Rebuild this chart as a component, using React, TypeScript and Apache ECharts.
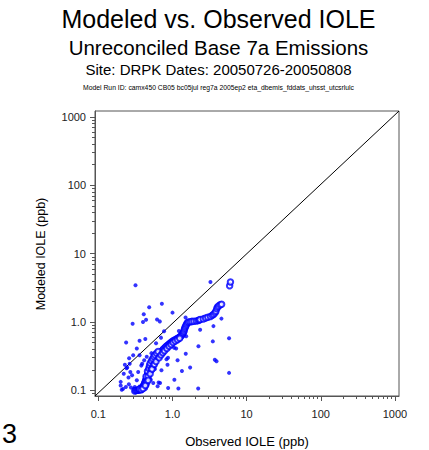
import React, { useEffect, useRef } from "react";
import * as echarts from "echarts";

// ---- Data ----
const titleText = "Modeled vs. Observed IOLE";
const subtitleText = "Unreconciled Base 7a Emissions";
const siteText = "Site: DRPK Dates: 20050726-20050808";
const runText = "Model Run ID: camx450 CB05 bc05jul reg7a 2005ep2 eta_dbemis_fddats_uhsst_utcsrlulc";
const xAxisName = "Observed IOLE (ppb)";
const yAxisName = "Modeled IOLE (ppb)";
const pageNumber = "3";

const tickExponents = [-1, 0, 1, 2, 3];
const tickLabels = ["0.1", "1.0", "10", "100", "1000"];

// paired observations (filled dots)
const pairedObs = [
  0.317, 3.25, 0.72, 0.485, 0.41, 1.0, 0.29, 0.40, 0.44, 0.62, 0.675, 0.237, 0.36, 0.43, 0.60,
  0.33, 0.295, 0.26, 0.265, 0.228, 0.245, 0.22, 0.255, 0.20, 0.207, 0.235, 0.275, 0.258, 0.345,
  0.39, 0.415, 0.49, 0.51, 0.65, 0.68, 0.874, 1.06, 1.2, 1.34, 1.73, 1.51, 1.12, 1.05, 0.87,
  0.83, 2.22, 2.24, 2.36, 3.5, 3.72, 3.92, 3.57, 4.57, 5.8, 5.8, 1.5, 1.53, 1.22, 0.77, 0.70,
  0.52, 0.58, 0.45, 0.36, 0.285, 0.33, 0.46, 0.71, 0.856, 1.17, 0.36, 0.63, 0.20, 0.215, 0.24,
  0.30, 0.31, 0.27, 0.38, 0.55,
];
const pairedMod = [
  3.44, 3.85, 1.85, 1.64, 1.30, 1.37, 0.945, 1.0, 1.08, 1.09, 1.02, 0.50, 0.53, 0.565, 0.49,
  0.41, 0.325, 0.294, 0.245, 0.237, 0.215, 0.175, 0.154, 0.118, 0.102, 0.112, 0.11, 0.123, 0.186,
  0.245, 0.275, 0.197, 0.143, 0.13, 0.128, 0.108, 0.143, 0.106, 0.192, 0.215, 0.344, 0.41, 0.42, 0.30,
  0.285, 0.106, 0.44, 0.77, 0.52, 0.28, 0.266, 0.87, 1.12, 0.58, 0.18, 1.16, 0.617, 0.74, 0.73, 0.59,
  0.35, 0.205, 0.31, 0.325, 0.166, 0.14, 0.118, 0.196, 0.237, 0.275, 0.114, 0.115, 0.133, 0.105, 0.21,
  0.105, 0.112, 0.185, 0.23, 0.128,
];

// sorted (quantile) pairs (open circles)
const qqObs = [
  0.31, 0.32, 0.33, 0.34, 0.35, 0.36, 0.37, 0.38, 0.385, 0.39, 0.395, 0.40, 0.405, 0.41, 0.415,
  0.42, 0.425, 0.43, 0.435, 0.44, 0.445, 0.45, 0.455, 0.46, 0.465, 0.47, 0.475, 0.48, 0.485, 0.49,
  0.50, 0.505, 0.51, 0.52, 0.53, 0.54, 0.55, 0.56, 0.57, 0.58, 0.59, 0.60, 0.62, 0.63, 0.65,
  0.67, 0.69, 0.71, 0.73, 0.75, 0.77, 0.80, 0.82, 0.85, 0.88, 0.91, 0.94, 0.97, 1.00, 1.03,
  1.07, 1.11, 1.15, 1.19, 1.23, 1.27, 1.31, 1.35, 1.38, 1.41, 1.43, 1.45, 1.47, 1.50, 1.53,
  1.56, 1.60, 1.66, 1.74, 1.83, 1.95, 2.10, 2.22, 2.30, 2.36, 2.60, 2.80, 3.00, 3.25, 3.45,
  3.60, 3.75, 3.85, 3.95, 4.05, 4.20, 4.40, 4.60, 5.90, 6.05,
  0.42, 0.44, 0.45, 0.46, 0.47, 0.48, 0.49, 0.50, 0.52, 0.52, 0.54, 0.55, 0.56, 0.58, 0.61, 0.64,
  0.36, 0.38, 0.40, 0.43, 0.47, 0.50, 0.53, 0.57, 0.60, 0.66, 0.70, 0.74, 0.78, 0.84, 0.90, 0.96,
  1.02, 1.09, 1.17, 1.25,
];
const qqMod = [
  0.098, 0.099, 0.100, 0.100, 0.101, 0.102, 0.103, 0.104, 0.106, 0.108, 0.110, 0.112, 0.115, 0.118, 0.121,
  0.125, 0.129, 0.133, 0.138, 0.143, 0.148, 0.154, 0.160, 0.166, 0.172, 0.179, 0.186, 0.193, 0.200, 0.207,
  0.215, 0.222, 0.229, 0.237, 0.245, 0.253, 0.261, 0.270, 0.278, 0.286, 0.294, 0.302, 0.312, 0.322, 0.333,
  0.345, 0.357, 0.370, 0.383, 0.396, 0.410, 0.424, 0.438, 0.452, 0.466, 0.480, 0.494, 0.508, 0.520, 0.532,
  0.545, 0.556, 0.568, 0.580, 0.594, 0.610, 0.630, 0.652, 0.680, 0.710, 0.740, 0.780, 0.820, 0.860, 0.900,
  0.940, 0.980, 1.000, 1.010, 1.020, 1.025, 1.035, 1.050, 1.070, 1.090, 1.110, 1.140, 1.170, 1.200, 1.250,
  1.300, 1.360, 1.440, 1.560, 1.650, 1.720, 1.780, 1.820, 3.400, 3.850,
  0.110, 0.160, 0.130, 0.190, 0.160, 0.210, 0.230, 0.250, 0.200, 0.270, 0.290, 0.230, 0.310, 0.330, 0.350, 0.370,
  0.104, 0.102, 0.106, 0.118, 0.140, 0.175, 0.205, 0.240, 0.265, 0.300, 0.330, 0.355, 0.380, 0.410, 0.440, 0.470,
  0.500, 0.525, 0.550, 0.580,
];

// axis ranges (log10 space)
const xLogRange = [-1.045, 3.055];
const yLogRange = [-1.083, 3.087];

const BLUE = "#0000ff";
const AXIS = "#555555";
const FONT = "Liberation Sans, Arial, sans-serif";

function minorExps(lo: number, hi: number) {
  const out: number[] = [];
  for (let d = -2; d <= 3; d++) {
    for (let k = 2; k <= 9; k++) {
      const v = d + Math.log10(k);
      if (v > lo + 0.005 && v < hi - 0.005) out.push(v);
    }
  }
  return out;
}

function labelFor(v: number) {
  const i = tickExponents.findIndex((e) => Math.abs(e - v) < 1e-6);
  return i >= 0 ? tickLabels[i] : "";
}

export default function App() {
  const ref = useRef<HTMLDivElement>(null);
  useEffect(() => {
    if (!ref.current) return;
    const chart = echarts.init(ref.current, undefined, { renderer: "svg" });
    const gridRect = { left: 95, right: 30, top: 111, bottom: 54 };
    const xMin = Math.pow(10, xLogRange[0]);
    const xMax = Math.pow(10, xLogRange[1]);
    const yMin = Math.pow(10, yLogRange[0]);
    const yMax = Math.pow(10, yLogRange[1]);
    const labelStyle = { fontFamily: FONT, fontSize: 11, color: "#222" };

    const option: any = {
      animation: false,
      grid: [
        { ...gridRect, show: true, borderColor: AXIS, borderWidth: 1, backgroundColor: "transparent" },
        { ...gridRect },
        { ...gridRect },
      ],
      xAxis: [
        { type: "log", logBase: 10, min: xMin, max: xMax, gridIndex: 0, show: false },
        {
          type: "value", gridIndex: 1, min: xLogRange[0], max: xLogRange[1], position: "bottom",
          axisLine: { show: true, onZero: false, lineStyle: { color: AXIS, width: 1 } },
          axisTick: { show: true, length: 5, customValues: tickExponents, lineStyle: { color: AXIS } },
          axisLabel: { show: true, customValues: tickExponents, formatter: (v: number) => labelFor(v), margin: 12, ...labelStyle },
          splitLine: { show: false },
        },
        {
          type: "value", gridIndex: 2, min: xLogRange[0], max: xLogRange[1], position: "bottom",
          axisLine: { show: false, onZero: false },
          axisTick: { show: true, length: 3, customValues: minorExps(xLogRange[0], xLogRange[1]), lineStyle: { color: AXIS } },
          axisLabel: { show: false },
          splitLine: { show: false },
        },
      ],
      yAxis: [
        { type: "log", logBase: 10, min: yMin, max: yMax, gridIndex: 0, show: false },
        {
          type: "value", gridIndex: 1, min: yLogRange[0], max: yLogRange[1], position: "left",
          axisLine: { show: true, onZero: false, lineStyle: { color: AXIS, width: 1 } },
          axisTick: { show: true, length: 5, customValues: tickExponents, lineStyle: { color: AXIS } },
          axisLabel: { show: true, customValues: tickExponents, formatter: (v: number) => labelFor(v), margin: 9, ...labelStyle },
          splitLine: { show: false },
        },
        {
          type: "value", gridIndex: 2, min: yLogRange[0], max: yLogRange[1], position: "left",
          axisLine: { show: false, onZero: false },
          axisTick: { show: true, length: 3, customValues: minorExps(yLogRange[0], yLogRange[1]), lineStyle: { color: AXIS } },
          axisLabel: { show: false },
          splitLine: { show: false },
        },
      ],
      series: [
        {
          type: "line", xAxisIndex: 0, yAxisIndex: 0, symbol: "none", silent: true,
          data: [[xMin, yMin], [xMax, yMax]],
          lineStyle: { color: "#000", width: 1 }, z: 1,
        },
        {
          type: "scatter", xAxisIndex: 0, yAxisIndex: 0, symbol: "circle", symbolSize: 4,
          data: pairedObs.map((o, i) => [o, pairedMod[i]]),
          itemStyle: { color: BLUE }, z: 2,
        },
        {
          type: "scatter", xAxisIndex: 0, yAxisIndex: 0, symbol: "emptyCircle", symbolSize: 5.5,
          data: qqObs.map((o, i) => [o, qqMod[i]]),
          itemStyle: { color: BLUE, borderColor: BLUE, borderWidth: 1 }, z: 3,
        },
      ],
      graphic: [
        { type: "text", x: 218.5, y: 19, style: { text: titleText, font: `25px ${FONT}`, fill: "#000", align: "center", verticalAlign: "middle" } },
        { type: "text", x: 218.5, y: 47, style: { text: subtitleText, font: `20.5px ${FONT}`, fill: "#000", align: "center", verticalAlign: "middle" } },
        { type: "text", x: 218.5, y: 69, style: { text: siteText, font: `15px ${FONT}`, fill: "#000", align: "center", verticalAlign: "middle" } },
        { type: "text", x: 218.5, y: 87, style: { text: runText, font: `6.8px ${FONT}`, fill: "#000", align: "center", verticalAlign: "middle" } },
        { type: "text", x: 247, y: 441, style: { text: xAxisName, font: `13px ${FONT}`, fill: "#000", align: "center", verticalAlign: "middle" } },
        { type: "text", x: 41, y: 254, rotation: Math.PI / 2, style: { text: yAxisName, font: `12.5px ${FONT}`, fill: "#000", align: "center", verticalAlign: "middle" } },
        { type: "text", x: 2, y: 434, style: { text: pageNumber, font: `27px ${FONT}`, fill: "#000", align: "left", verticalAlign: "middle" } },
      ],
    };
    chart.setOption(option);
    return () => chart.dispose();
  }, []);
  return (
    <div
      ref={ref}
      style={{ position: "fixed", left: 0, top: 0, width: 429, height: 450, background: "#fff" }}
    />
  );
}
